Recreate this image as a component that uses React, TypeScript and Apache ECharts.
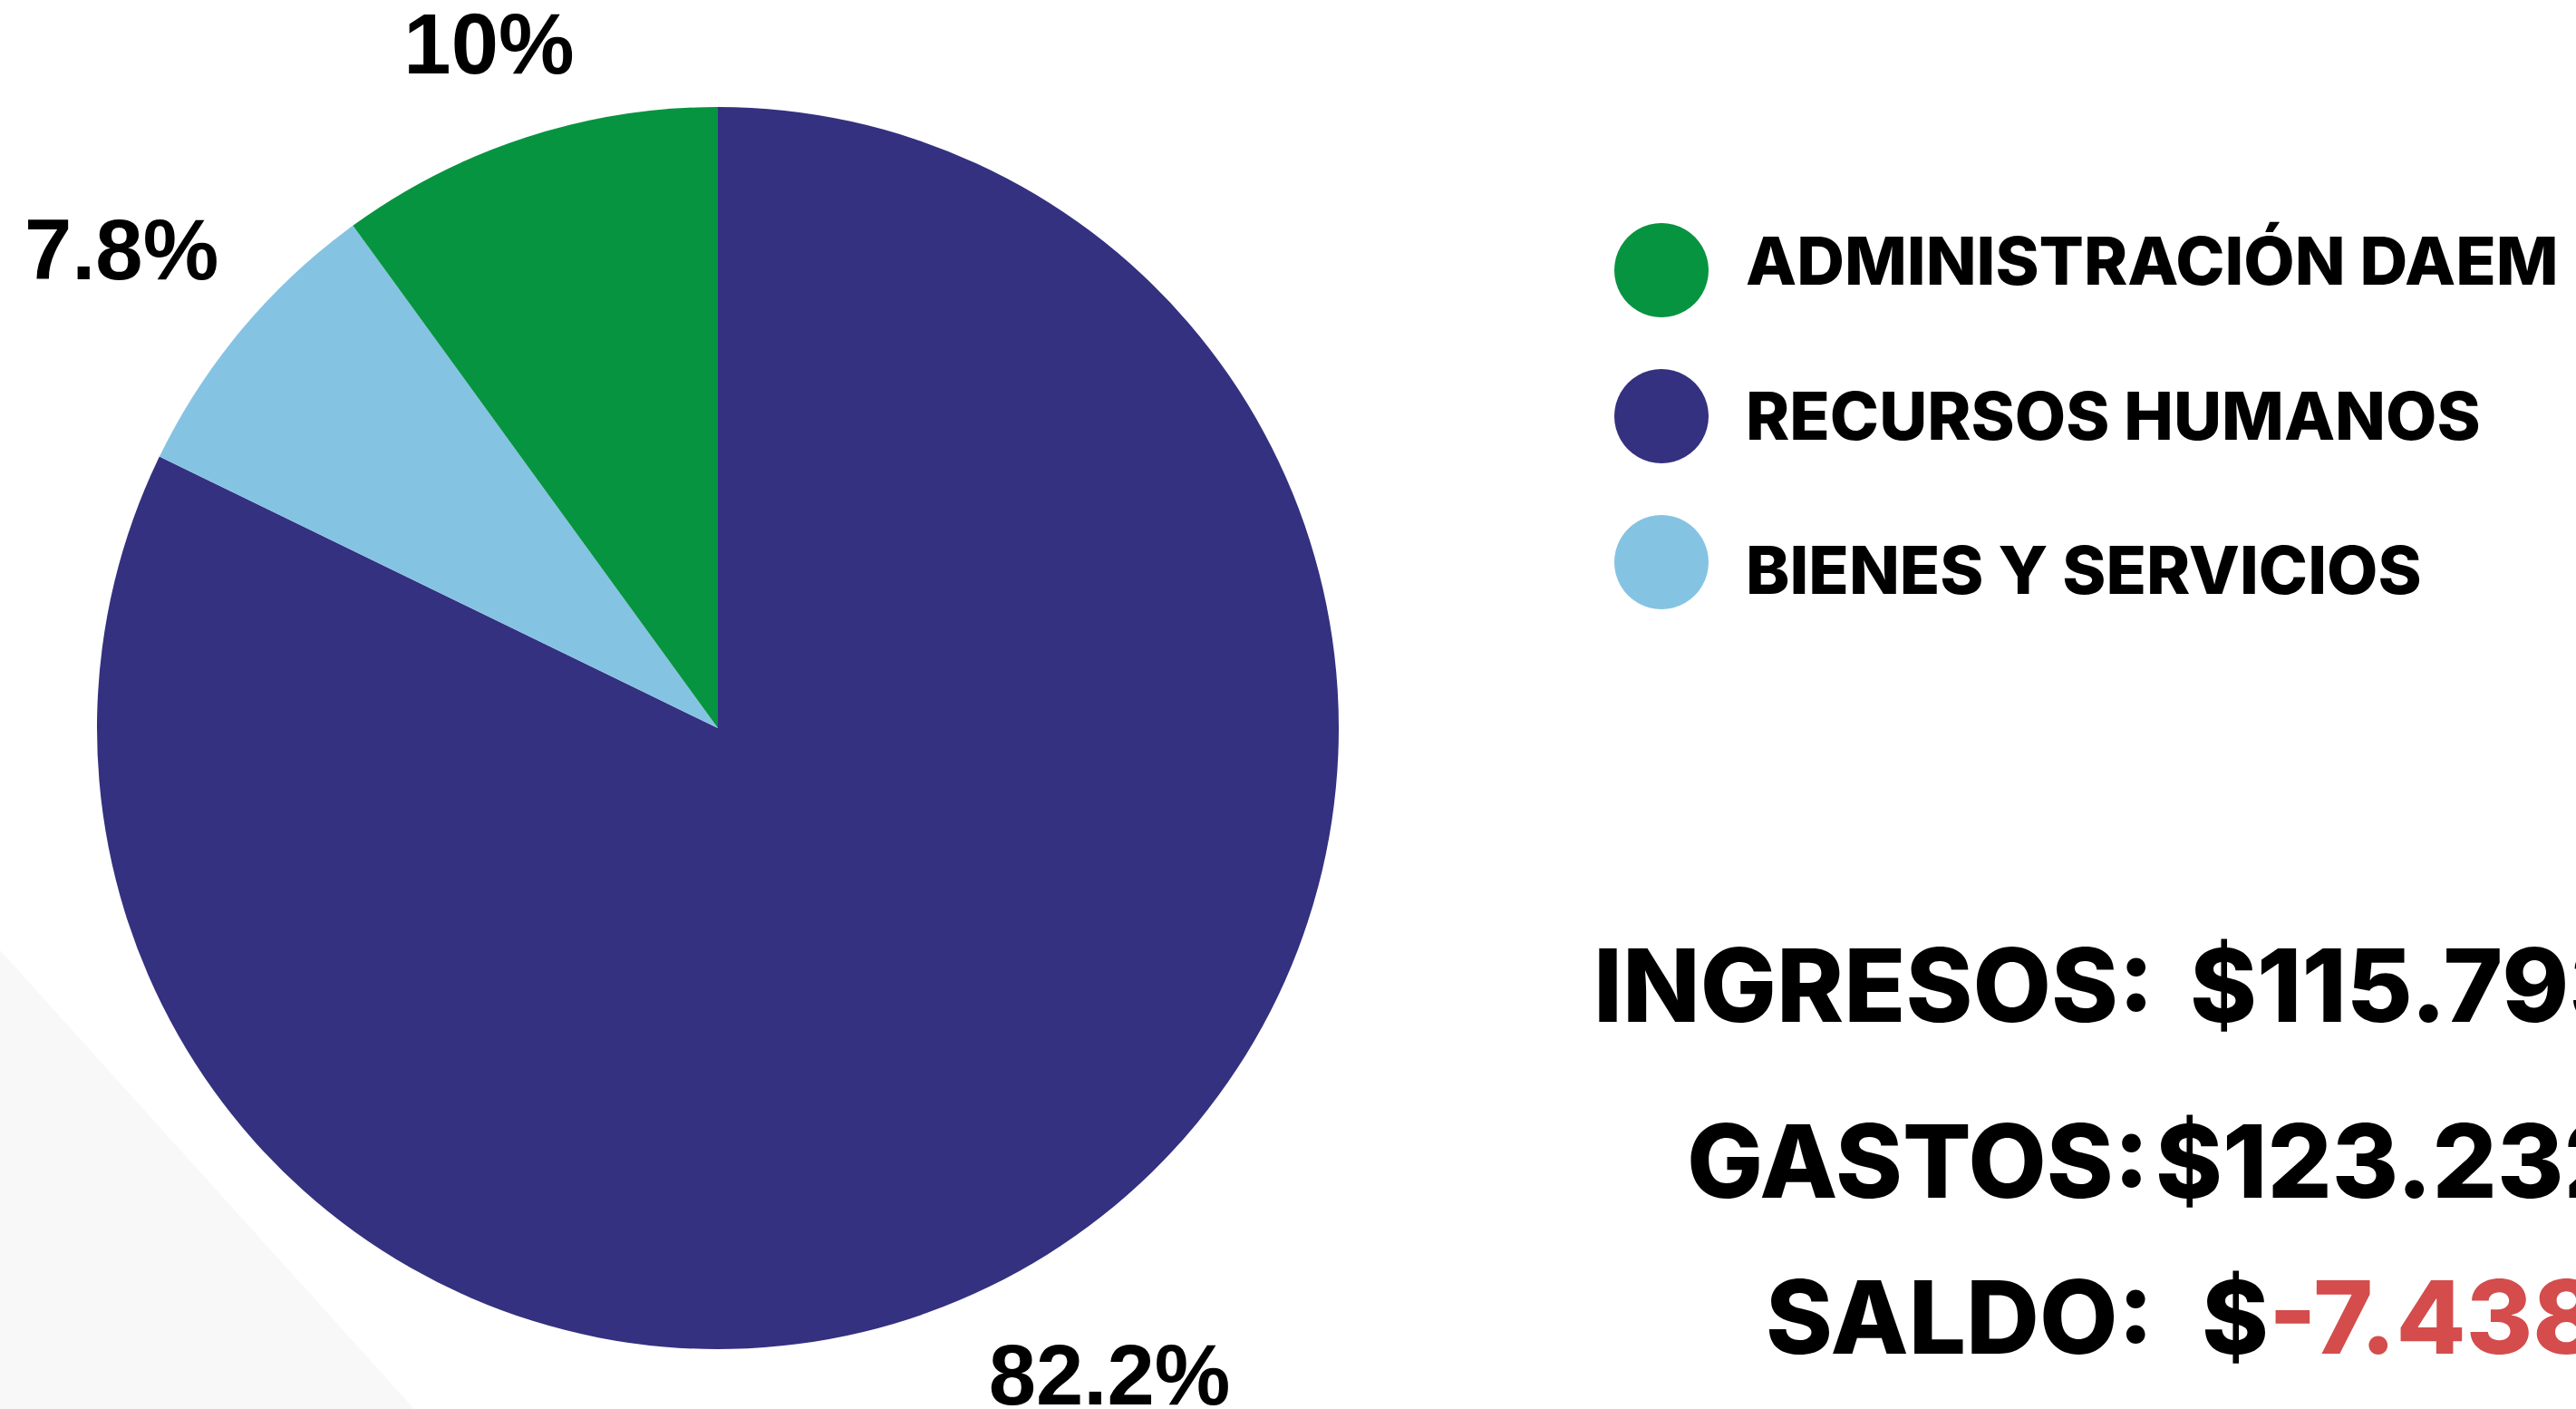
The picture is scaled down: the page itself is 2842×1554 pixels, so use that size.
import React, { useEffect, useRef } from 'react';
import * as echarts from 'echarts';

// ---- data ----
const categories = ['RECURSOS HUMANOS', 'BIENES Y SERVICIOS', 'ADMINISTRACIÓN DAEM'];
const values = [82.2, 7.8, 10];
const legendOrder = ['ADMINISTRACIÓN DAEM', 'RECURSOS HUMANOS', 'BIENES Y SERVICIOS'];
const summaryLabels = ['INGRESOS:', 'GASTOS:', 'SALDO:'];
const summaryValues = ['$115.793', '$123.232', '$-7.438'];

// ---- styles / layout ----
const colors = ['#343180', '#85c3e3', '#079440'];
const W = 2842;
const H = 1554;
const CX = 792;
const CY = 803;
const R = 685;
const labelRadius = [834, 843, 796];
const labelAngleShiftDeg = [0.84, -1.26, -0.5];
const legendTextShift = [-11, -1, 8];
const summaryLabelX = [1758, 1861, 1948];
const summaryValueX = [2416, 2378, 2429];
const summaryY = [1086, 1280, 1452];
const SUM_FONT = '800 112px Inter, "Noto Sans", sans-serif';

export default function App() {
  const ref = useRef<HTMLDivElement>(null);
  useEffect(() => {
    document.body.style.margin = '0';
    const chart = echarts.init(ref.current!, null, { renderer: 'svg' });
    const total = values.reduce((a, b) => a + b, 0);
    const mids: number[] = [];
    let acc = 0;
    values.forEach((v, i) => {
      mids.push(((acc + v / 2) / total) * Math.PI * 2 + (labelAngleShiftDeg[i] * Math.PI) / 180);
      acc += v;
    });

    const graphics: any[] = [
      {
        type: 'polygon',
        z: -10,
        silent: true,
        shape: { points: [[0, 1048], [457, H], [0, H]] },
        style: { fill: '#f8f8f8' },
      },
    ];
    summaryLabels.forEach((lab, i) => {
      graphics.push({
        type: 'text',
        x: summaryLabelX[i],
        y: summaryY[i],
        silent: true,
        style: {
          text: lab,
          font: SUM_FONT,
          fill: '#000',
          textAlign: 'left',
          textVerticalAlign: 'middle',
        },
      });
      const v = summaryValues[i];
      const neg = v.indexOf('-') >= 0;
      graphics.push({
        type: 'text',
        x: summaryValueX[i],
        y: summaryY[i],
        silent: true,
        style: neg
          ? {
              text: '{a|' + v.slice(0, 1) + '}{b|' + v.slice(1) + '}',
              textAlign: 'left',
              textVerticalAlign: 'middle',
              rich: {
                a: { font: SUM_FONT, fill: '#000', color: '#000' },
                b: { font: SUM_FONT, fill: '#d44c4c', color: '#d44c4c' },
              },
            }
          : {
              text: v,
              font: SUM_FONT,
              fill: '#000',
              textAlign: 'left',
              textVerticalAlign: 'middle',
            },
      });
    });

    const rich: any = {};
    legendOrder.forEach((_, i) => {
      const s = legendTextShift[i];
      rich['r' + i] = {
        fontFamily: 'Inter, "Noto Sans", sans-serif',
        fontWeight: 800,
        fontSize: 73,
        color: '#000',
        padding: s < 0 ? [0, 0, -2 * s, 36] : [2 * s, 0, 0, 36],
      };
    });

    chart.setOption({
      animation: false,
      backgroundColor: '#ffffff',
      legend: {
        orient: 'vertical',
        left: 1781,
        top: 246,
        padding: 0,
        itemWidth: 104,
        itemHeight: 104,
        itemGap: 57,
        icon: 'circle',
        selectedMode: false,
        data: legendOrder,
        formatter: (name: string) => '{r' + legendOrder.indexOf(name) + '|' + name + '}',
        textStyle: {
          fontFamily: 'Inter, "Noto Sans", sans-serif',
          fontWeight: 800,
          fontSize: 73,
          color: '#000',
          rich,
        },
      },
      graphic: graphics,
      series: [
        {
          type: 'pie',
          center: [CX, CY],
          radius: R,
          startAngle: 90,
          clockwise: true,
          silent: true,
          avoidLabelOverlap: false,
          data: categories.map((c, i) => ({
            name: c,
            value: values[i],
            itemStyle: { color: colors[i] },
          })),
          label: {
            show: true,
            position: 'outside',
            formatter: '{d}%',
            fontFamily: '"Liberation Sans", Arial, sans-serif',
            fontWeight: 'bold',
            fontSize: 94,
            color: '#000',
          },
          labelLine: { show: false },
          labelLayout: (p: any) => {
            const a = mids[p.dataIndex];
            const r = labelRadius[p.dataIndex];
            return {
              x: CX + r * Math.sin(a),
              y: CY - r * Math.cos(a),
              align: 'center',
              verticalAlign: 'middle',
            };
          },
        },
      ],
    });
    return () => chart.dispose();
  }, []);
  return (
    <div
      ref={ref}
      style={{ position: 'fixed', left: 0, top: 0, width: W, height: H, background: '#fff' }}
    />
  );
}
